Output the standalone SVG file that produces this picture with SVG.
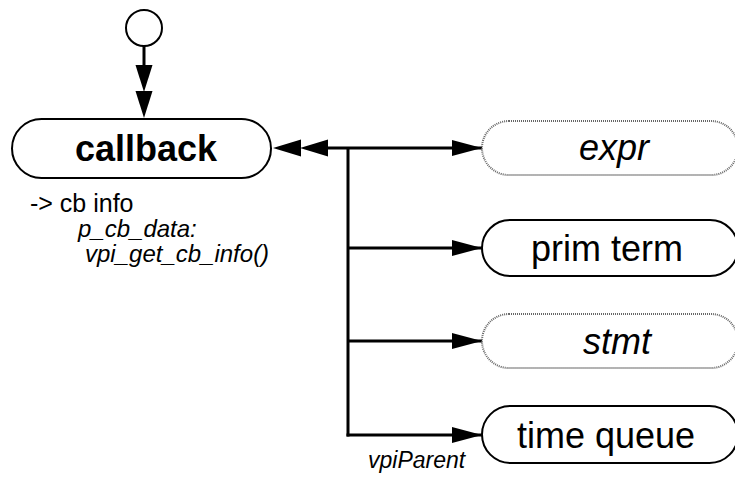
<svg xmlns="http://www.w3.org/2000/svg" width="735" height="478" viewBox="0 0 735 478">
<defs>
<style>
.node{fill:#fff;stroke:#000;stroke-width:2}
.dot{fill:#fff;stroke:#666;stroke-width:2;stroke-dasharray:1 1}
.ln{fill:none;stroke:#000;stroke-width:3}
.t{font-family:"Liberation Sans",Arial,sans-serif;font-size:36px;text-anchor:middle;fill:#000}
.s{font-family:"Liberation Sans",Arial,sans-serif;fill:#000}
.ah{fill:#000}
</style>
<marker id="arr" markerWidth="30" markerHeight="16" refX="30" refY="8" orient="auto" markerUnits="userSpaceOnUse">
<path d="M0,0 L30,8 L0,16 Z" class="ah"/>
</marker>
</defs>
<g id="connectors">
<circle cx="144" cy="28" r="18" fill="#fff" stroke="#000" stroke-width="2"/>
<line class="ln" x1="144" y1="46" x2="144" y2="70"/>
<path class="ah" d="M135.5,65 L152.5,65 L144,92 Z"/>
<path class="ah" d="M135.5,91 L152.5,91 L144,118 Z"/>
<path class="ah" d="M273,148 L301,139.5 L301,156.5 Z"/>
<path class="ah" d="M300,148 L328,139.5 L328,156.5 Z"/>
<line class="ln" x1="320" y1="148" x2="482" y2="148" marker-end="url(#arr)"/>
<line class="ln" x1="348" y1="148" x2="348" y2="436.5"/>
<line class="ln" x1="348" y1="248" x2="482" y2="248" marker-end="url(#arr)"/>
<line class="ln" x1="348" y1="341" x2="482" y2="341" marker-end="url(#arr)"/>
<line class="ln" x1="346.5" y1="435" x2="482" y2="435" marker-end="url(#arr)"/>
<text class="s" x="368" y="468" font-size="23" font-style="italic">vpiParent</text>
</g>
<g id="callback">
<rect class="node" x="12" y="119" width="259" height="59" rx="29.5"/>
<text class="t" x="146" y="161" font-weight="bold">callback</text>
<text class="s" x="30" y="212" font-size="25">-&gt; cb info</text>
<text class="s" x="78" y="237" font-size="24" font-style="italic">p_cb_data:</text>
<text class="s" x="85" y="262" font-size="24" font-style="italic">vpi_get_cb_info()</text>
</g>
<g id="expr">
<rect class="dot" x="482" y="121" width="256" height="54" rx="27"/>
<text class="t" x="614" y="160" font-style="italic">expr</text>
</g>
<g id="prim_term">
<rect class="node" x="482" y="220" width="256" height="56" rx="28"/>
<text class="t" x="607" y="261">prim term</text>
</g>
<g id="stmt">
<rect class="dot" x="482" y="314" width="256" height="54" rx="27"/>
<text class="t" x="617" y="354" font-style="italic">stmt</text>
</g>
<g id="time_queue">
<rect class="node" x="482" y="406" width="256" height="57" rx="28.5"/>
<text class="t" x="606" y="448">time queue</text>
</g>
</svg>
